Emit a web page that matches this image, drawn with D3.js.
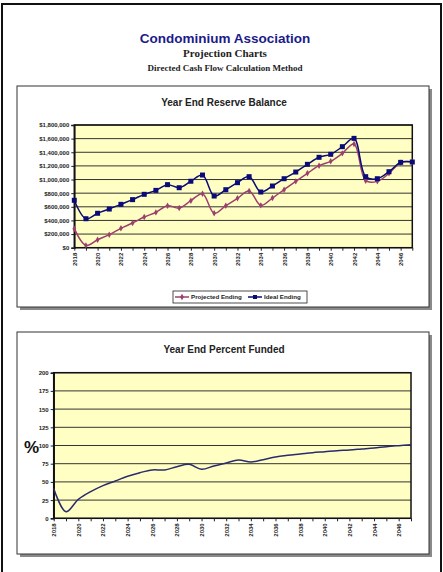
<!DOCTYPE html>
<html><head><meta charset="utf-8">
<script src="https://cdn.jsdelivr.net/npm/d3@7"></script>
<style>
html,body{margin:0;padding:0;background:#fff;}
svg{display:block;}
text{font-family:"Liberation Sans",Arial,sans-serif;}
</style></head>
<body>
<svg id="c" width="443" height="572"></svg>
<script>
// ---- data ----
const years = d3.range(2018, 2048);
const projectedEnding = [279000, 34000, 117000, 191000, 284000, 362000, 450000, 518000, 616000, 582000,
  690000, 792000, 504000, 616000, 724000, 832000, 621000, 729000, 851000, 973000,
  1091000, 1203000, 1267000, 1384000, 1521000, 983000, 973000, 1090000, 1247000, 1262000];
const idealEnding = [695000, 425000, 505000, 567000, 636000, 705000, 783000, 841000, 925000, 880000,
  975000, 1066000, 758000, 851000, 954000, 1042000, 817000, 905000, 1012000, 1110000,
  1223000, 1326000, 1370000, 1482000, 1604000, 1042000, 1012000, 1115000, 1252000, 1257000];
const percentFunded = [41, 9, 26, 36.6, 44.9, 51.3, 57.7, 62.7, 66.4, 66.4,
  70.9, 74.1, 67.3, 71.9, 76, 80.1, 77.3, 80.5, 84.2, 86.5,
  88.3, 90.2, 91.5, 92.9, 93.8, 95.2, 96.6, 98.4, 99.8, 101.1];
const balanceTicks = d3.range(0, 1800001, 200000);
const percentTicks = d3.range(0, 201, 25);
const yearLabels = d3.range(2018, 2047, 2);
const seriesNames = ["Projected Ending", "Ideal Ending"];

const svg = d3.select("#c");
const NAVY = "#0a0a78", MAROON = "#9c3f6e", PLOTBG = "#ffffc4";

// page border
svg.append("rect").attr("x", 2).attr("y", 4).attr("width", 439).attr("height", 580)
  .attr("fill", "none").attr("stroke", "#111").attr("stroke-width", 2);

// header
svg.append("text").attr("x", 225).attr("y", 43).attr("text-anchor", "middle")
  .attr("font-size", 13.5).attr("font-weight", "bold").attr("fill", "#1b1b8a").text("Condominium Association");
svg.append("text").attr("x", 225).attr("y", 57).attr("text-anchor", "middle")
  .style("font-family", "'Liberation Serif',serif").attr("font-size", 11).attr("font-weight", "bold").attr("fill", "#222").text("Projection Charts");
svg.append("text").attr("x", 225).attr("y", 71).attr("text-anchor", "middle")
  .style("font-family", "'Liberation Serif',serif").attr("font-size", 9).attr("font-weight", "bold").attr("fill", "#222").text("Directed Cash Flow Calculation Method");

function frame(x, y, w, h) {
  svg.append("rect").attr("x", x + 3).attr("y", y + 3).attr("width", w).attr("height", h).attr("fill", "#8a8a8a");
  svg.append("rect").attr("x", x).attr("y", y).attr("width", w).attr("height", h)
    .attr("fill", "#fff").attr("stroke", "#333").attr("stroke-width", 1);
}

function xAxisYears(g, x, y0) {
  const ax = d3.axisBottom(x).tickValues(years).tickSize(3)
    .tickFormat(d => yearLabels.includes(d) ? String(d) : "");
  const a = g.append("g").attr("transform", `translate(0,${y0})`).call(ax);
  a.select(".domain").remove();
  a.selectAll("line").attr("stroke", "#222");
  a.selectAll("text").attr("transform", "rotate(-90)").attr("text-anchor", "end")
    .attr("x", -5).attr("y", 0).attr("dy", "0.33em")
    .attr("font-size", 6).attr("font-weight", "bold").attr("fill", "#222");
}

// ---- chart 1 ----
frame(17, 86, 412, 221);
svg.append("text").attr("x", 224).attr("y", 106).attr("text-anchor", "middle")
  .attr("font-size", 10).attr("font-weight", "bold").attr("fill", "#222").text("Year End Reserve Balance");

const x1 = d3.scaleLinear().domain([2018, 2047]).range([74.3, 412.3]);
const y1 = d3.scaleLinear().domain([0, 1800000]).range([247.7, 125]);
const g1 = svg.append("g");
g1.append("rect").attr("x", x1(2018)).attr("y", y1(1800000)).attr("width", x1(2047) - x1(2018))
  .attr("height", y1(0) - y1(1800000)).attr("fill", PLOTBG);
g1.append("g").selectAll("line").data(balanceTicks).join("line")
  .attr("x1", x1(2018)).attr("x2", x1(2047)).attr("y1", d => y1(d)).attr("y2", d => y1(d))
  .attr("stroke", "#333").attr("stroke-width", 1);
const ya1 = g1.append("g").attr("transform", `translate(${x1(2018)},0)`)
  .call(d3.axisLeft(y1).tickValues(balanceTicks).tickSize(3).tickFormat(d => "$" + d3.format(",")(d)));
ya1.select(".domain").attr("stroke", "#111").attr("stroke-width", 1.5);
ya1.selectAll("line").attr("stroke", "#222");
ya1.selectAll("text").attr("font-size", 6).attr("font-weight", "bold").attr("fill", "#222").attr("x", -5);
g1.append("rect").attr("x", x1(2018)).attr("y", y1(1800000)).attr("width", x1(2047) - x1(2018))
  .attr("height", y1(0) - y1(1800000)).attr("fill", "none").attr("stroke", "#111").attr("stroke-width", 1.5);
xAxisYears(g1, x1, y1(0));

const line1 = d3.line().x((d, i) => x1(years[i])).y(d => y1(d)).curve(d3.curveCatmullRom.alpha(0.5));
g1.append("path").attr("d", line1(projectedEnding)).attr("fill", "none").attr("stroke", MAROON).attr("stroke-width", 1.5);
g1.append("path").attr("d", line1(idealEnding)).attr("fill", "none").attr("stroke", NAVY).attr("stroke-width", 1.5);
g1.append("g").selectAll("path").data(projectedEnding).join("path")
  .attr("transform", (d, i) => `translate(${x1(years[i])},${y1(d)})`)
  .attr("d", d3.symbol(d3.symbolDiamond, 12)).attr("fill", MAROON);
g1.append("g").selectAll("rect").data(idealEnding).join("rect")
  .attr("x", (d, i) => x1(years[i]) - 2.5).attr("y", d => y1(d) - 2.5).attr("width", 5).attr("height", 5).attr("fill", NAVY);

// legend
const lg = svg.append("g");
lg.append("rect").attr("x", 173).attr("y", 291).attr("width", 134).attr("height", 12)
  .attr("fill", "#fff").attr("stroke", "#222").attr("stroke-width", 0.8);
const legItems = [{name: seriesNames[0], c: MAROON, x: 175, sym: "d"}, {name: seriesNames[1], c: NAVY, x: 248, sym: "s"}];
legItems.forEach(it => {
  lg.append("line").attr("x1", it.x).attr("x2", it.x + 14).attr("y1", 297).attr("y2", 297).attr("stroke", it.c).attr("stroke-width", 1.5);
  if (it.sym === "d") lg.append("path").attr("transform", `translate(${it.x + 7},297)`).attr("d", d3.symbol(d3.symbolDiamond, 12)).attr("fill", it.c);
  else lg.append("rect").attr("x", it.x + 5).attr("y", 295).attr("width", 4).attr("height", 4).attr("fill", it.c);
  lg.append("text").attr("x", it.x + 16).attr("y", 299.3).attr("font-size", 6.2).attr("font-weight", "bold").attr("fill", "#222").text(it.name);
});

// ---- chart 2 ----
frame(17, 332, 412, 222);
svg.append("text").attr("x", 224).attr("y", 352.5).attr("text-anchor", "middle")
  .attr("font-size", 10).attr("font-weight", "bold").attr("fill", "#222").text("Year End Percent Funded");

const x2 = d3.scaleLinear().domain([2018, 2047]).range([53.7, 411]);
const y2 = d3.scaleLinear().domain([0, 200]).range([518.3, 372.7]);
const g2 = svg.append("g");
g2.append("rect").attr("x", x2(2018)).attr("y", y2(200)).attr("width", x2(2047) - x2(2018))
  .attr("height", y2(0) - y2(200)).attr("fill", PLOTBG);
g2.append("g").selectAll("line").data(percentTicks).join("line")
  .attr("x1", x2(2018)).attr("x2", x2(2047)).attr("y1", d => y2(d)).attr("y2", d => y2(d))
  .attr("stroke", "#333").attr("stroke-width", 1);
const ya2 = g2.append("g").attr("transform", `translate(${x2(2018)},0)`)
  .call(d3.axisLeft(y2).tickValues(percentTicks).tickSize(3));
ya2.select(".domain").attr("stroke", "#111").attr("stroke-width", 1.5);
ya2.selectAll("line").attr("stroke", "#222");
ya2.selectAll("text").attr("font-size", 6).attr("font-weight", "bold").attr("fill", "#222").attr("x", -5);
g2.append("rect").attr("x", x2(2018)).attr("y", y2(200)).attr("width", x2(2047) - x2(2018))
  .attr("height", y2(0) - y2(200)).attr("fill", "none").attr("stroke", "#111").attr("stroke-width", 1.5);
xAxisYears(g2, x2, y2(0));
svg.append("text").attr("x", 24).attr("y", 453).attr("font-size", 17).attr("font-weight", "bold").attr("fill", "#111").text("%");

const line2 = d3.line().x((d, i) => x2(years[i])).y(d => y2(d)).curve(d3.curveCatmullRom.alpha(0.5));
g2.append("path").attr("d", line2(percentFunded)).attr("fill", "none").attr("stroke", "#2a2a6e").attr("stroke-width", 1.5);
</script>
</body></html>
